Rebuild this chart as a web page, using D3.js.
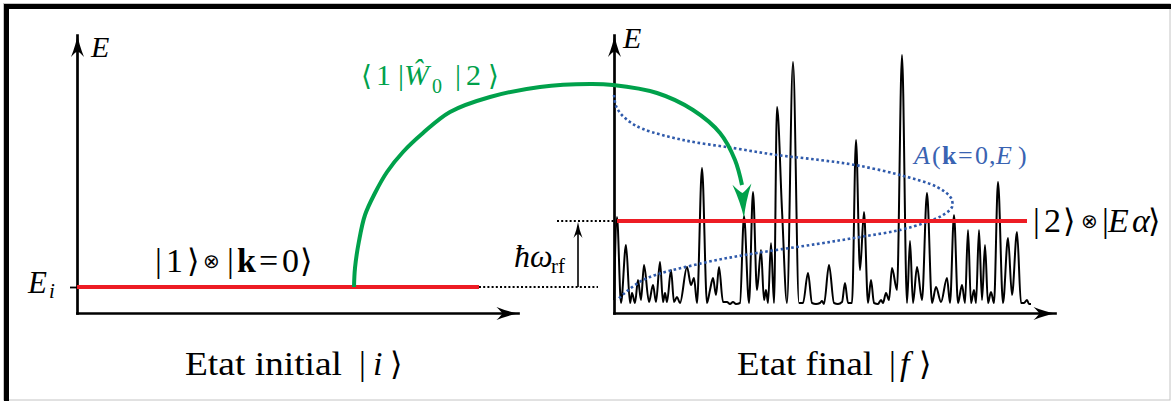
<!DOCTYPE html>
<html><head><meta charset="utf-8">
<script src="https://cdn.jsdelivr.net/npm/d3@7"></script>
<style>html,body{margin:0;padding:0;background:#fff;} svg{display:block;}</style>
</head><body>
<svg id="c" width="1171" height="401"></svg>
<script>
// ---------- data (arbitrary units) ----------
const E_i = 2.6;            // initial energy level
const E_f = 9.2;            // final level  E_i + hbar*omega_rf
const axisTopE = 27.8;      // top of energy axes
const axisLen = 44.1;       // length of horizontal axes
const redLeftEnd = 40.2;
const redRightStart = 0.3, redRightEnd = 41.3;
const dotLeftEnd = 52.1;    // dotted guide at E_i (left units)
const dotTopStart = -5.7;   // dotted guide at E_f (right units)
const hwX = 50.1;           // hbar omega arrow position (left units)

// spectrum |E_alpha> : positions and amplitudes
const specX = [0.0,0.3,0.7,1.2,1.6,1.8,2.1,2.4,2.7,3.0,
  3.5,3.9,4.2,4.6,4.9,5.1,5.3,5.7,6.0,6.3,
  6.6,7.3,7.7,8.0,8.3,8.8,9.3,9.6,9.9,10.2,
  10.5,10.9,11.3,11.6,11.9,12.2,12.6,13.0,13.5,13.9,
  14.3,14.7,15.0,15.2,15.4,15.7,16.0,16.3,16.8,17.3,
  17.9,18.5,18.9,19.4,19.8,20.2,20.6,20.8,21.0,21.5,
  22.0,22.4,22.8,23.1,23.4,23.8,24.2,24.6,25.0,25.4,
  25.7,26.0,26.4,26.7,26.9,27.2,27.5,27.8,28.3,28.8,
  29.3,29.6,29.9,30.3,30.8,31.3,31.8,32.2,32.7,33.3,
  33.6,34.0,34.4,34.8,35.1,35.4,35.7,36.0,36.2,36.5,
  36.8,37.1,37.4,37.7,38.0,38.4,38.9,39.4,39.8,40.3,
  40.7,41.0,41.3,41.5,41.7];
const specA = [1.3,9.6,1.0,6.8,1.0,2.0,1.0,3.3,1.3,4.8,
  1.1,2.8,1.1,5.1,1.1,2.0,1.1,4.3,1.1,1.6,
  1.0,4.6,2.8,3.5,1.0,14.5,1.0,2.3,3.5,1.8,
  4.6,1.1,1.1,0.9,1.1,0.9,1.0,9.7,1.0,12.1,
  2.3,6.3,1.3,2.3,1.0,7.0,1.0,20.6,10.3,1.0,
  25.1,1.0,1.0,4.0,1.0,0.9,1.0,1.2,0.9,4.8,
  1.0,0.9,1.1,3.0,1.0,1.0,17.3,4.3,10.1,1.0,
  3.3,1.0,0.9,1.3,1.0,2.0,1.3,4.5,2.3,25.8,
  1.0,7.2,1.0,4.6,1.3,12.0,1.0,2.6,1.1,3.5,
  1.0,9.8,1.0,2.8,1.0,8.3,1.0,2.3,1.0,8.3,
  1.3,6.8,1.0,2.1,1.0,13.1,1.0,7.5,1.8,8.1,
  1.0,1.0,1.3,0.9,0.9];

// spectral function A(k=0,E)
const blueE = [21.8,20.7,19.9,19.1,18.4,17.3,16.5,15.8,15.3,14.8,13.8,12.6,11.5,10.6,9.8,9.1,8.3,7.6,6.9,6.0,5.0,3.3,1.3];
const blueA = [0.0,0.2,0.7,1.6,2.9,6.9,11.9,16.3,20.6,24.1,28.6,32.3,33.7,33.8,32.9,31.3,28.6,24.6,20.3,14.3,8.9,2.9,0.3];

// coupling arrow <1|W0|2> (left-panel units)
const greenX = [27.7,27.8,28.2,28.8,29.8,31.0,32.6,34.6,37.3,41.3,46.3,51.3,53.6,58.0,61.6,64.3,65.8,66.5];
const greenE = [2.6,4.5,7.2,9.8,12.0,14.1,16.1,18.0,20.1,21.6,22.6,22.9,22.8,22.0,20.3,18.0,15.3,12.8];
const greenTip = [66.7, 9.5];

const xLabels = ["Etat initial", "Etat final"];

// ---------- drawing ----------
const svg = d3.select('#c');
const SERIF = "'Liberation Serif'";
const SYM = "'DejaVu Sans'";
const RED = '#ed1c24', GREEN = '#00a14b', BLUE = '#2f5aab', BLUE_T = '#3a63b2';

const xL = d3.scaleLinear().domain([0, axisLen]).range([77, 518]);
const xR = d3.scaleLinear().domain([0, axisLen]).range([614, 1055]);
const yE = d3.scaleLinear().domain([0, axisTopE]).range([313, 35]);

// frame
svg.append('rect').attr('x',3.5).attr('y',3.5).attr('width',1166.5).attr('height',396.5)
  .attr('fill','none').attr('stroke','#c4c4c4');
svg.append('rect').attr('x',4).attr('y',4).attr('width',1167).attr('height',5).attr('fill','#000');
svg.append('rect').attr('x',4).attr('y',4).attr('width',5).attr('height',397).attr('fill','#000');

function head(x, y, ang, L, W, color) {
  svg.append('path')
    .attr('d', `M0,0 Q${-0.45*L},${-0.25*W} ${-L},${-W} Q${-0.78*L},${-0.3*W} ${-0.74*L},0 Q${-0.78*L},${0.3*W} ${-L},${W} Q${-0.45*L},${0.25*W} 0,0Z`)
    .attr('transform', `translate(${x},${y}) rotate(${ang})`)
    .attr('fill', color);
}

function styleAxis(g) {
  g.select('.domain').attr('stroke','#000').attr('stroke-width',2.7)
    .attr('stroke-linecap','square').attr('stroke-linejoin','miter');
  g.selectAll('.tick line').attr('stroke','#000').attr('stroke-width',1.8);
}

// left axes
const gLy = svg.append('g').attr('transform',`translate(${xL(0)},0)`)
  .call(d3.axisLeft(yE).tickValues([E_i]).tickSize(7).tickFormat('').tickSizeOuter(0));
styleAxis(gLy);
const gLx = svg.append('g').attr('transform',`translate(0,${yE(0)})`)
  .call(d3.axisBottom(xL).tickValues([]).tickSizeOuter(0));
styleAxis(gLx);
// right axes
const gRy = svg.append('g').attr('transform',`translate(${xR(0)},0)`)
  .call(d3.axisLeft(yE).tickValues([]).tickSizeOuter(0));
styleAxis(gRy);
const gRx = svg.append('g').attr('transform',`translate(0,${yE(0)})`)
  .call(d3.axisBottom(xR).tickValues([]).tickSizeOuter(0));
styleAxis(gRx);

head(xL(0)+0.5, yE(axisTopE), -90, 22, 6.5, '#000');
head(xL(axisLen)+0.5, yE(0)+0.5, 0, 22, 6.5, '#000');
head(xR(0)+0.5, yE(axisTopE), -90, 22, 6.5, '#000');
head(xR(axisLen)+0.5, yE(0)+0.5, 0, 22, 6.5, '#000');

// spectrum
svg.append('path')
  .attr('d', d3.line().x((d,i)=>xR(specX[i])).y((d,i)=>yE(specA[i])).curve(d3.curveMonotoneX)(specX))
  .attr('fill','none').attr('stroke','#000').attr('stroke-width',2).attr('stroke-linejoin','round');

// spectral function (dotted)
svg.append('path')
  .attr('d', d3.line().x((d,i)=>xR(blueA[i])).y((d,i)=>yE(blueE[i])).curve(d3.curveCatmullRom.alpha(0.5))(blueE))
  .attr('fill','none').attr('stroke',BLUE).attr('stroke-width',2.6).attr('stroke-dasharray','2.6,2.6');

// energy levels
svg.append('line').attr('x1',xL(0)).attr('x2',xL(redLeftEnd)).attr('y1',yE(E_i)).attr('y2',yE(E_i))
  .attr('stroke',RED).attr('stroke-width',4);
svg.append('line').attr('x1',xR(redRightStart)).attr('x2',xR(redRightEnd)).attr('y1',yE(E_f)).attr('y2',yE(E_f))
  .attr('stroke',RED).attr('stroke-width',4);

// dotted guides
svg.append('line').attr('x1',xL(redLeftEnd)).attr('x2',xL(dotLeftEnd)).attr('y1',yE(E_i)).attr('y2',yE(E_i))
  .attr('stroke','#000').attr('stroke-width',2).attr('stroke-dasharray','2,2.2');
svg.append('line').attr('x1',xR(dotTopStart)).attr('x2',xR(0)).attr('y1',yE(E_f)).attr('y2',yE(E_f))
  .attr('stroke','#000').attr('stroke-width',2).attr('stroke-dasharray','2,2.2');

// hbar omega arrow
svg.append('line').attr('x1',xL(hwX)).attr('x2',xL(hwX)).attr('y1',yE(E_i)).attr('y2',yE(E_f)+10)
  .attr('stroke','#000').attr('stroke-width',1.6);
head(xL(hwX), yE(E_f)+1, -90, 16, 4.5, '#000');

// green coupling arrow
svg.append('path')
  .attr('d', d3.line().x((d,i)=>xL(greenX[i])).y((d,i)=>yE(greenE[i])).curve(d3.curveCatmullRom.alpha(0.5))(greenX))
  .attr('fill','none').attr('stroke',GREEN).attr('stroke-width',4).attr('stroke-linecap','butt');
{
  const n = greenX.length - 1;
  const px = xL(greenX[n]), py = yE(greenE[n]);
  const tx = xL(greenTip[0]), ty = yE(greenTip[1]);
  const ang = Math.atan2(ty-py, tx-px)*180/Math.PI;
  head(tx, ty, ang, 34, 9.5, GREEN);
}

// ---------- text ----------
function label(parts, fill) {
  const t = svg.append('text').attr('fill', fill || '#000').style('font-family', SERIF);
  parts.forEach(p => {
    t.append('tspan').text(p.t).attr('x', p.x).attr('y', p.y)
      .style('font-family', p.f ? SYM : SERIF)
      .style('font-size', p.s + 'px')
      .style('font-style', p.i ? 'italic' : 'normal')
      .style('font-weight', p.b ? 'bold' : 'normal');
  });
  return t;
}

// axis labels E
label([{t:'E', x:91, y:57, s:30, i:1}]);
label([{t:'E', x:623, y:48, s:30, i:1}]);
// E_i
label([{t:'E', x:28, y:yE(E_i)+6, s:31, i:1}, {t:'i', x:49, y:yE(E_i)+11, s:21, i:1}]);

// |1>⊗|k=0>
{
  const b = yE(E_i) - 15;
  label([
    {t:'|', x:155, y:b, s:34}, {t:'1', x:166, y:b, s:34},
    {t:'\u27E9', x:187, y:b, s:32, f:1},
    {t:'\u2297', x:203, y:b-4, s:20, f:1},
    {t:'|', x:227, y:b, s:34}, {t:'k', x:237, y:b, s:34, b:1},
    {t:'=', x:259, y:b, s:34}, {t:'0', x:282, y:b, s:34},
    {t:'\u27E9', x:300, y:b, s:32, f:1}
  ]);
}
// |2>⊗|E_alpha>
{
  const b = yE(E_f) + 11;
  label([
    {t:'|', x:1033, y:b, s:34}, {t:'2', x:1044, y:b, s:34},
    {t:'\u27E9', x:1063, y:b, s:32, f:1},
    {t:'\u2297', x:1081, y:b-4, s:20, f:1},
    {t:'|', x:1102, y:b, s:34}, {t:'E', x:1108, y:b, s:34, i:1},
    {t:'\u03B1', x:1132, y:b, s:34, i:1},
    {t:'\u27E9', x:1148, y:b, s:32, f:1}
  ]);
}
// <1|W0|2>
label([
  {t:'\u27E8', x:361, y:85, s:28, f:1}, {t:'1', x:376, y:85, s:30},
  {t:'|', x:398, y:85, s:30}, {t:'\u0174', x:404, y:85, s:30, i:1},
  {t:'0', x:432, y:93, s:20}, {t:'|', x:455, y:85, s:30},
  {t:'2', x:466, y:85, s:30}, {t:'\u27E9', x:488, y:85, s:28, f:1}
], GREEN);
// hbar omega_rf
label([
  {t:'\u0127', x:514, y:267, s:32, i:1}, {t:'\u03C9', x:530, y:267, s:32, i:1},
  {t:'rf', x:551, y:273, s:21}
]);
// A(k=0,E)
label([
  {t:'A', x:914, y:164, s:26, i:1}, {t:'(', x:932, y:164, s:26},
  {t:'k', x:942, y:164, s:26, b:1}, {t:'=', x:958, y:164, s:26},
  {t:'0', x:975, y:164, s:26}, {t:',', x:989, y:164, s:26},
  {t:'E', x:996, y:164, s:26, i:1}, {t:')', x:1018, y:164, s:26}
], BLUE_T);

// bottom labels
svg.append('text').text(xLabels[0]).attr('x',185).attr('y',375)
  .style('font-family', SERIF).style('font-size','33px')
  .attr('textLength',157).attr('lengthAdjust','spacingAndGlyphs');
label([{t:'|', x:359, y:375, s:34}, {t:'i', x:373, y:375, s:34, i:1}, {t:'\u27E9', x:390, y:375, s:32, f:1}]);
svg.append('text').text(xLabels[1]).attr('x',737).attr('y',375)
  .style('font-family', SERIF).style('font-size','33px')
  .attr('textLength',136).attr('lengthAdjust','spacingAndGlyphs');
label([{t:'|', x:889, y:375, s:34}, {t:'f', x:900, y:375, s:34, i:1}, {t:'\u27E9', x:919, y:375, s:32, f:1}]);
</script>
</body></html>
